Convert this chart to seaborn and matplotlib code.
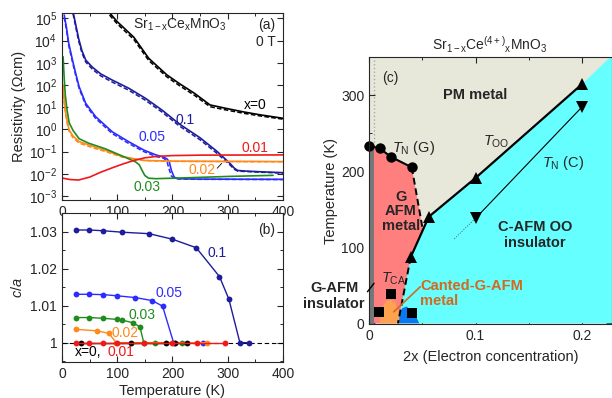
import numpy as np
import matplotlib
matplotlib.use("Agg")
import matplotlib.pyplot as plt
import seaborn as sns
from matplotlib.ticker import MultipleLocator, FixedLocator, FixedFormatter, NullLocator

# ---------------- panel (a): resistivity, T (K) vs log10(rho / Ohm cm)
t_x0 = [86, 100, 130, 157, 190, 212, 240, 268, 300, 330, 360, 400]
r_x0 = [5.25, 4.85, 4.15, 3.2, 2.45, 2.07, 1.62, 1.1, 0.93, 0.78, 0.65, 0.5]
r_x0_dash = [5.15, 4.75, 4.05, 3.1, 2.36, 1.98, 1.53, 1.02, 0.86, 0.72, 0.6, 0.46]

t_01 = [20, 25, 30, 36, 43, 55, 70, 91, 121, 151, 181, 212, 250, 280, 304, 312, 318, 334, 360, 400]
r_01 = [5.3, 4.7, 4.1, 3.55, 3.12, 2.8, 2.5, 2.22, 1.85, 1.4, 0.87, 0.25, -0.38, -0.98, -1.53, -1.75, -1.85, -1.88, -1.91, -1.95]
r_01_dash = [5.2, 4.6, 4.0, 3.45, 3.03, 2.71, 2.41, 2.13, 1.76, 1.31, 0.78, 0.16, -0.47, -1.07, -1.6, -1.8, -1.88, -1.9, -1.93, -1.97]

t_005 = [4, 8, 12, 19, 25, 31, 43, 61, 91, 121, 148, 170, 184, 190, 194, 198, 203, 210, 250, 400]
r_005 = [5.15, 4.6, 3.9, 3.12, 2.5, 1.92, 1.17, 0.57, -0.11, -0.56, -0.93, -1.15, -1.25, -1.33, -1.45, -1.85, -2.15, -2.22, -2.24, -2.25]
r_005_dash = [5.05, 4.5, 3.8, 3.03, 2.41, 1.84, 1.09, 0.49, -0.19, -0.64, -1.0, -1.22, -1.3, -1.45, -1.8, -2.1, -2.2, -2.23, -2.25, -2.26]

t_003 = [2, 4, 6, 9, 13, 20, 31, 48, 79, 109, 133, 140, 145, 150, 157, 170, 226, 300, 382]
r_003 = [3.27, 2.3, 1.55, 0.9, 0.3, -0.05, -0.42, -0.62, -0.88, -1.2, -1.46, -1.6, -1.85, -2.08, -2.2, -2.22, -2.18, -2.12, -2.07]

t_002 = [2, 4, 7, 10, 13, 20, 31, 61, 79, 109, 130, 150, 200, 400]
r_002 = [2.0, 1.3, 0.7, 0.3, -0.03, -0.3, -0.55, -0.81, -0.95, -1.22, -1.32, -1.4, -1.43, -1.45]
r_002_dash = [1.9, 1.2, 0.6, 0.2, -0.1, -0.38, -0.62, -0.87, -1.0, -1.25, -1.34, -1.41, -1.44, -1.46]

t_001 = [2, 15, 30, 50, 70, 90, 110, 130, 150, 170, 200, 250, 400]
r_001 = [-2.2, -2.26, -2.28, -2.15, -1.93, -1.74, -1.56, -1.4, -1.28, -1.22, -1.18, -1.16, -1.15]

# ---------------- panel (b): c/a vs T
ca_t_01 = [25, 49, 75, 109, 158, 200, 243, 285, 302, 322, 338]
ca_01 = [1.0305, 1.0305, 1.0303, 1.0299, 1.0295, 1.028, 1.0257, 1.0179, 1.0118, 1.0, 1.0]
ca_t_005 = [25, 49, 75, 99, 133, 163, 182, 202, 255]
ca_005 = [1.0131, 1.0131, 1.013, 1.0127, 1.0122, 1.0114, 1.0099, 1.0, 1.0]
ca_t_003 = [25, 49, 75, 99, 109, 128, 141, 148, 169, 217]
ca_003 = [1.0068, 1.0068, 1.0066, 1.0063, 1.0061, 1.0054, 1.0043, 1.0, 1.0, 1.0]
ca_t_002 = [25, 64, 85, 98, 262]
ca_002 = [1.0036, 1.0032, 1.0025, 1.0, 1.0]
ca_t_x0 = [35, 124, 189, 205, 226]
ca_x0 = [1.0, 1.0, 1.0, 1.0, 1.0]
ca_t_001 = [25, 49, 75, 99, 148, 200, 244, 295]
ca_001 = [1.0, 1.0, 1.0, 1.0, 1.0, 1.0, 1.0, 1.0]

# ---------------- panel (c): phase diagram, 2x vs T (K)
pm_x_max = 0.2285
cyan_x = [0.027, 0.039, 0.056, 0.1, 0.2, 0.227, 0.24, 0.24]
cyan_t = [0, 87, 140, 191, 314, 350, 350, 0]
gafm_x = [0.0, 0.0, 0.01, 0.02, 0.04, 0.0505, 0.039, 0.027]
gafm_t = [0, 233, 230, 219, 205, 122, 87, 0]
canted_x = [0.0095, 0.011, 0.013, 0.016, 0.02, 0.024, 0.027, 0.0285, 0.029]
canted_t = [0, 12, 23, 29, 31, 28, 18, 8, 0]
blue_x = [0.028, 0.0285, 0.031, 0.035, 0.04, 0.044, 0.047]
blue_t = [0, 12, 20, 22, 17, 9, 0]

tng_x = [0.0, 0.01, 0.02, 0.04]
tng_t = [233, 230, 219, 205]
tng_dash_x = [0.04, 0.0505]
tng_dash_t = [205, 122]
too_x = [0.039, 0.056, 0.1, 0.2]
too_t = [87, 140, 191, 314]
too_dash_x = [0.039, 0.027]
too_dash_t = [87, 0]
tnc_x = [0.1, 0.2]
tnc_t = [138, 284]
tnc_dot_x = [0.08, 0.1]
tnc_dot_t = [111, 138]
tca_x = [0.0095, 0.02, 0.0405]
tca_t = [15, 39, 14]

NAVY = '#1d1d9c'
BLUE = '#2c2cff'
GREEN = '#1e8c1e'
ORANGE = '#ff8a1a'
RED = '#f01818'

sns.set_style("ticks")
plt.rcParams['font.family'] = ['Liberation Sans', 'DejaVu Sans']
plt.rcParams['mathtext.fontset'] = 'custom'
plt.rcParams['mathtext.rm'] = 'Liberation Sans'
plt.rcParams['mathtext.it'] = 'Liberation Sans:italic'
plt.rcParams['mathtext.bf'] = 'Liberation Sans:bold'
plt.rcParams['font.size'] = 10
plt.rcParams['axes.linewidth'] = 0.8

fig = plt.figure(figsize=(6.12, 3.98), dpi=100)
ax_a = fig.add_axes([0.1013, 0.4975, 0.3611, 0.4698])
ax_b = fig.add_axes([0.1013, 0.0905, 0.3611, 0.3743])
ax_c = fig.add_axes([0.6034, 0.1852, 0.3966, 0.6716])

for ax in (ax_a, ax_b, ax_c):
    ax.tick_params(which='both', direction='in', top=True, right=True, labelsize=10)
    ax.tick_params(which='major', length=4, width=0.8)
    ax.tick_params(which='minor', length=2.5, width=0.7)

# ---- (a)
curves_a = [
    (t_x0, r_x0, r_x0_dash, 'k'),
    (t_01, r_01, r_01_dash, NAVY),
    (t_005, r_005, r_005_dash, BLUE),
    (t_002, r_002, r_002_dash, ORANGE),
    (t_003, r_003, None, GREEN),
    (t_001, r_001, None, RED),
]
for t, r, rd, c in curves_a:
    if rd is not None:
        sns.lineplot(x=t, y=10.0 ** np.array(rd), ax=ax_a, color=c, lw=1.1,
                     linestyle=(0, (3, 1.5)), sort=False, estimator=None)
    sns.lineplot(x=t, y=10.0 ** np.array(r), ax=ax_a, color=c, lw=1.2,
                 sort=False, estimator=None)

ax_a.set_yscale('log')
ax_a.set_xlim(0, 400)
ax_a.set_ylim(10 ** -3.18, 10 ** 5.24)
ax_a.yaxis.set_major_locator(FixedLocator([10.0 ** k for k in range(-3, 6)]))
ax_a.yaxis.set_minor_locator(NullLocator())
ax_a.xaxis.set_major_locator(MultipleLocator(100))
ax_a.xaxis.set_minor_locator(MultipleLocator(50))
ax_a.set_ylabel('Resistivity (\u03a9cm)', fontsize=10.5, labelpad=2)
ax_a.set_xlabel('')

ax_a.text(214, 10 ** 4.72, r'Sr$_{\mathrm{1-x}}$Ce$_{\mathrm{x}}$MnO$_3$', ha='center', va='center', fontsize=10)
ax_a.text(370, 10 ** 4.72, '(a)', ha='center', va='center', fontsize=10)
ax_a.text(370, 10 ** 3.95, '0 T', ha='center', va='center', fontsize=10)
ax_a.text(349, 10 ** 1.08, 'x=0', ha='center', va='center', fontsize=10, color='k')
ax_a.text(223, 10 ** 0.42, '0.1', ha='center', va='center', fontsize=10, color=NAVY)
ax_a.text(163, 10 ** -0.33, '0.05', ha='center', va='center', fontsize=10, color=BLUE)
ax_a.text(349, 10 ** -0.86, '0.01', ha='center', va='center', fontsize=10, color=RED)
ax_a.text(253, 10 ** -1.83, '0.02', ha='center', va='center', fontsize=10, color=ORANGE)
ax_a.text(154, 10 ** -2.59, '0.03', ha='center', va='center', fontsize=10, color=GREEN)
ax_a.plot([281, 289], [10 ** -1.75, 10 ** -1.53], color='k', lw=0.6)

# ---- (b)
ax_b.axhline(1.0, color='k', lw=0.8, linestyle=(0, (4, 2.5)), zorder=1)
curves_b = [
    (ca_t_01, ca_01, NAVY),
    (ca_t_005, ca_005, BLUE),
    (ca_t_003, ca_003, GREEN),
    (ca_t_002, ca_002, ORANGE),
    (ca_t_x0, ca_x0, 'k'),
    (ca_t_001, ca_001, RED),
]
for t, v, c in curves_b:
    sns.lineplot(x=t, y=v, ax=ax_b, color=c, lw=1.0, marker='o', markersize=4.2,
                 markeredgewidth=0, sort=False, estimator=None)

ax_b.set_xlim(0, 400)
ax_b.set_ylim(0.99477, 1.0351)
ax_b.yaxis.set_major_locator(FixedLocator([1.0, 1.01, 1.02, 1.03]))
ax_b.yaxis.set_major_formatter(FixedFormatter(['1', '1.01', '1.02', '1.03']))
ax_b.yaxis.set_minor_locator(MultipleLocator(0.005))
ax_b.xaxis.set_major_locator(MultipleLocator(100))
ax_b.xaxis.set_minor_locator(MultipleLocator(50))
ax_b.set_xlabel('Temperature (K)', fontsize=10.5, labelpad=2)
ax_b.set_ylabel('$c/a$', fontsize=10.5, labelpad=4)

ax_b.text(370, 1.0305, '(b)', ha='center', va='center', fontsize=10)
ax_b.text(280, 1.0242, '0.1', ha='center', va='center', fontsize=10, color=NAVY)
ax_b.text(193, 1.01355, '0.05', ha='center', va='center', fontsize=10, color=BLUE)
ax_b.text(145, 1.0075, '0.03', ha='center', va='center', fontsize=10, color=GREEN)
ax_b.text(115, 1.0025, '0.02', ha='center', va='center', fontsize=10, color=ORANGE)
ax_b.text(48, 0.99756, 'x=0,', ha='center', va='center', fontsize=10, color='k')
ax_b.text(106, 0.99756, '0.01', ha='center', va='center', fontsize=10, color=RED)

# ---- (c)
ax_c.set_facecolor('#e8e8da')
ax_c.fill(cyan_x, cyan_t, color='#66ffff', lw=0, zorder=1)
ax_c.fill(gafm_x, gafm_t, color='#ff7f7f', lw=0, zorder=1)
ax_c.fill(canted_x, canted_t, color='#ffa24f', lw=0, zorder=2)
ax_c.fill(blue_x, blue_t, color='#0a78f0', lw=0, zorder=2)
ax_c.axvspan(0.0, 0.0045, ymin=0, ymax=(233 + 1.3) / 351.3, color='#777777', lw=0, zorder=2)
ax_c.plot([0.004, 0.004], [233, 350], color='#a8a8a8', lw=1.0, linestyle=':', zorder=2)

sns.lineplot(x=tng_x, y=tng_t, ax=ax_c, color='k', lw=1.5, marker='o', markersize=7.5,
             markeredgewidth=0, sort=False, estimator=None, clip_on=False, zorder=5)
sns.lineplot(x=tng_dash_x, y=tng_dash_t, ax=ax_c, color='k', lw=1.4, linestyle=(0, (3.5, 2)),
             sort=False, estimator=None, zorder=4)
sns.lineplot(x=too_x, y=too_t, ax=ax_c, color='k', lw=1.6, marker='^', markersize=8.5,
             markeredgewidth=0, sort=False, estimator=None, zorder=5)
sns.lineplot(x=too_dash_x, y=too_dash_t, ax=ax_c, color='k', lw=1.4, linestyle=(0, (3.5, 2)),
             sort=False, estimator=None, zorder=4)
sns.lineplot(x=tnc_x, y=tnc_t, ax=ax_c, color='k', lw=0.8, marker='v', markersize=8,
             markeredgewidth=0, sort=False, estimator=None, zorder=5)
sns.lineplot(x=tnc_dot_x, y=tnc_dot_t, ax=ax_c, color='#555555', lw=0.7, linestyle=':',
             sort=False, estimator=None, zorder=4)
sns.scatterplot(x=tca_x, y=tca_t, ax=ax_c, color='k', marker='s', s=50, linewidth=0, zorder=6)

ax_c.set_xlim(0, pm_x_max)
ax_c.set_ylim(-1.3, 350)
ax_c.xaxis.set_major_locator(FixedLocator([0, 0.1, 0.2]))
ax_c.xaxis.set_major_formatter(FixedFormatter(['0', '0.1', '0.2']))
ax_c.xaxis.set_minor_locator(MultipleLocator(0.05))
ax_c.yaxis.set_major_locator(MultipleLocator(100))
ax_c.yaxis.set_minor_locator(MultipleLocator(50))
ax_c.set_xlabel('2x (Electron concentration)', fontsize=10.5, labelpad=5)
ax_c.set_ylabel('Temperature (K)', fontsize=10.5, labelpad=2)
for s in ax_c.spines.values():
    s.set_zorder(7)

ax_c.text(0.012, 322, '(c)', ha='left', va='center', fontsize=10)
ax_c.text(0.1, 300, 'PM metal', ha='center', va='center', fontsize=10.5, fontweight='bold')
ax_c.text(0.021, 230, r'$T_{\mathrm{N}}$ (G)', ha='left', va='center', fontsize=10.5)
ax_c.text(0.107, 239, r'$T_{\mathrm{OO}}$', ha='left', va='center', fontsize=10.5)
ax_c.text(0.1625, 211, r'$T_{\mathrm{N}}$ (C)', ha='left', va='center', fontsize=10.5)
ax_c.text(0.0295, 147, 'G\nAFM\nmetal', ha='center', va='center', fontsize=10.5,
          fontweight='bold', linespacing=1.05, zorder=6)
ax_c.text(0.156, 116, 'C-AFM OO\ninsulator', ha='center', va='center', fontsize=10.5,
          fontweight='bold', linespacing=1.15)
ax_c.text(0.011, 59, r'$T_{\mathrm{CA}}$', ha='left', va='center', fontsize=10.5, zorder=6)
ax_c.text(0.048, 39, 'Canted-G-AFM\nmetal', ha='left', va='center', fontsize=10.5,
          fontweight='bold', color='#d2691e', linespacing=1.1, zorder=6)
ax_c.plot([0.048, 0.023], [48, 15], color='#d2691e', lw=1.2, zorder=6)
ax_c.text(-0.004, 36, 'G-AFM\ninsulator', ha='right', va='center', fontsize=10.5,
          fontweight='bold', linespacing=1.15, multialignment='center')
ax_c.plot([-0.0017, 0.0045], [41.5, 52.6], color='k', lw=1.0, clip_on=False, zorder=8)

fig.text(490 / 612, 1 - 45 / 398, r'Sr$_{\mathrm{1-x}}$Ce$^{\mathrm{(4+)}}$$_{\mathrm{x}}$MnO$_3$',
         ha='center', va='center', fontsize=10)

fig.savefig('out.png', dpi=100)
